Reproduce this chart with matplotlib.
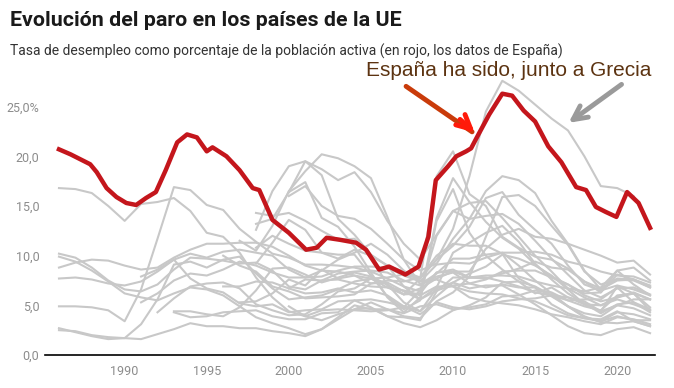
#Evolucion del paro en los paises de la UE - recreacion del grafico

#Imports
import numpy as np
import matplotlib
matplotlib.use('Agg')
import matplotlib.pyplot as plt

plt.rcParams['font.family'] = ['Roboto', 'DejaVu Sans']

#Datos de Espana (lectura del grafico, tasa de paro en %)
spain_years = [1986.0, 1986.7, 1987.3, 1987.9, 1988.3, 1988.9, 1989.5, 1990.1, 1990.7, 1991.3,
               1991.9, 1992.5, 1993.2, 1993.8, 1994.4, 1995.0, 1995.35, 1996.2, 1997.0, 1997.8,
               1998.2, 1999.0, 2000.0, 2001.05, 2001.7, 2002.3, 2003.1, 2004.1, 2004.7, 2005.5,
               2006.1, 2007.1, 2007.9, 2008.5, 2008.95, 2009.7, 2010.2, 2010.8, 2011.1, 2011.45,
               2012.2, 2013.0, 2013.6, 2014.3, 2015.0, 2015.8, 2016.6, 2017.5, 2018.1, 2018.7,
               2019.3, 2019.95, 2020.6, 2021.3, 2022.0]
spain_vals = [20.7, 20.2, 19.7, 19.2, 18.4, 16.8, 15.9, 15.3, 15.1, 15.8,
              16.4, 18.6, 21.4, 22.2, 21.9, 20.5, 20.9, 20.0, 18.6, 16.8,
              16.6, 13.6, 12.3, 10.6, 10.8, 11.8, 11.6, 11.3, 10.6, 8.6,
              8.9, 8.1, 8.9, 11.9, 17.6, 19.0, 20.0, 20.5, 20.8, 21.9,
              24.2, 26.3, 26.1, 24.6, 23.5, 21.0, 19.4, 16.9, 16.6, 14.9,
              14.4, 13.9, 16.4, 15.3, 12.8]

#Resto de paises (primer anio, valores anuales)
ireland_start = 1986
ireland = [16.8, 16.7, 16.3, 15.0, 13.5, 15.2, 15.4, 15.8, 14.5, 12.3, 11.9, 10.3, 7.8, 5.8, 4.4,
           3.9, 4.5, 4.6, 4.5, 4.4, 4.5, 4.8, 6.5, 12.0, 14.5, 15.3, 15.5, 13.8, 11.9, 10.0,
           8.4, 6.7, 5.8, 5.0, 5.8, 6.2, 4.5]
finland_start = 1986
finland = [4.9, 4.9, 4.8, 4.5, 3.4, 6.6, 11.7, 16.9, 16.6, 15.1, 14.6, 12.7, 11.4, 10.2, 9.8,
           9.1, 9.1, 9.0, 8.8, 8.4, 7.7, 6.9, 6.4, 8.3, 8.4, 7.8, 7.7, 8.2, 8.7, 9.4,
           8.8, 8.6, 7.4, 6.7, 7.7, 7.6, 6.8]
sweden_start = 1986
sweden = [2.7, 2.3, 1.9, 1.6, 1.7, 3.1, 5.6, 9.1, 9.4, 8.8, 9.6, 9.9, 8.2, 6.7, 5.6,
          5.8, 6.0, 6.6, 7.4, 7.7, 7.1, 6.1, 6.2, 8.3, 8.6, 7.8, 8.0, 8.0, 7.9, 7.4,
          7.0, 6.7, 6.4, 6.8, 8.5, 8.8, 7.5]
luxembourg_start = 1986
luxembourg = [2.5, 2.4, 2.0, 1.8, 1.7, 1.6, 2.1, 2.6, 3.2, 2.9, 2.9, 2.7, 2.7, 2.4, 2.2,
              1.9, 2.6, 3.8, 5.0, 4.6, 4.6, 4.2, 4.9, 5.1, 4.6, 4.8, 5.1, 5.9, 6.0, 6.5,
              6.3, 5.5, 5.6, 5.6, 6.8, 5.3, 4.6]
netherlands_start = 1986
netherlands = [9.9, 9.4, 8.5, 7.4, 6.2, 5.8, 5.5, 6.2, 6.8, 6.6, 6.0, 4.9, 3.8, 3.2, 2.7,
               2.1, 2.6, 3.6, 4.6, 4.7, 3.9, 3.2, 2.8, 3.5, 4.5, 5.0, 5.8, 7.3, 7.4, 6.9,
               6.0, 4.9, 3.8, 3.4, 3.9, 3.5, 3.5]
belgium_start = 1986
belgium = [10.2, 9.8, 8.8, 7.5, 6.6, 6.4, 7.1, 8.6, 9.8, 9.7, 9.5, 9.2, 9.3, 8.5, 6.9,
           6.6, 7.5, 8.2, 8.4, 8.5, 8.3, 7.5, 7.0, 7.9, 8.3, 7.2, 7.6, 8.4, 8.5, 8.5,
           7.8, 7.1, 6.0, 5.4, 5.8, 6.3, 5.6]
italy_start = 1986
italy = [8.8, 9.3, 9.6, 9.5, 9.0, 8.6, 8.8, 9.8, 10.6, 11.2, 11.2, 11.3, 11.3, 10.9, 10.0,
         9.0, 8.5, 8.4, 8.0, 7.7, 6.8, 6.1, 6.7, 7.7, 8.4, 8.4, 10.7, 12.1, 12.7, 11.9,
         11.7, 11.2, 10.6, 10.0, 9.3, 9.5, 8.1]
france_start = 1986
france = [7.7, 7.8, 7.6, 7.2, 7.0, 7.4, 8.4, 9.6, 10.2, 9.8, 10.4, 10.6, 10.3, 10.0, 8.6,
          7.8, 7.9, 8.5, 8.9, 8.9, 8.8, 8.0, 7.4, 9.1, 9.3, 9.2, 9.8, 10.3, 10.3, 10.4,
          10.1, 9.4, 9.0, 8.4, 8.0, 7.9, 7.3]
portugal_start = 1992
portugal = [4.3, 5.7, 6.9, 7.2, 7.3, 6.7, 5.1, 4.5, 4.0, 4.1, 5.1, 6.4, 6.7, 7.7, 7.8,
            8.1, 7.7, 9.6, 11.0, 12.9, 15.8, 16.4, 14.1, 12.6, 11.2, 9.0, 7.1, 6.5, 7.0, 6.6, 6.0]
denmark_start = 1991
denmark = [7.9, 8.6, 9.6, 7.7, 6.7, 6.3, 5.2, 4.9, 5.1, 4.3, 4.5, 4.6, 5.4, 5.5, 4.8,
           3.9, 3.8, 3.5, 6.4, 7.8, 7.8, 7.8, 7.4, 6.9, 6.3, 6.0, 5.8, 5.1, 5.0, 5.6, 5.1, 4.5]
germany_start = 1991
germany = [5.3, 6.2, 7.5, 8.2, 8.0, 8.6, 9.4, 9.0, 8.3, 7.8, 7.8, 8.5, 9.6, 10.3, 11.2,
           10.1, 8.5, 7.4, 7.6, 6.9, 5.8, 5.4, 5.2, 5.0, 4.6, 4.1, 3.8, 3.4, 3.1, 3.8, 3.6, 3.1]
austria_start = 1993
austria = [4.3, 3.8, 3.9, 4.3, 4.4, 4.5, 3.9, 3.6, 3.6, 4.2, 4.3, 5.5, 5.6, 5.3, 4.9,
           4.1, 5.3, 4.8, 4.6, 4.9, 5.4, 5.6, 5.7, 6.0, 5.5, 4.9, 4.5, 6.0, 6.2, 4.8]
greece_start = 1998
greece = [10.8, 12.0, 11.2, 10.5, 10.3, 9.7, 10.6, 10.0, 9.0, 8.4, 7.8, 9.6, 12.7, 18.0, 24.5,
          27.6, 26.6, 25.2, 23.8, 22.6, 20.0, 17.0, 16.8, 16.0, 12.8]
poland_start = 1997
poland = [11.5, 10.5, 13.0, 16.5, 18.5, 20.2, 19.8, 19.0, 17.8, 13.9, 9.6, 7.1, 8.2, 9.7, 9.7,
          10.1, 10.3, 9.0, 7.5, 6.2, 4.9, 3.9, 3.3, 3.2, 3.4, 2.9]
slovakia_start = 1998
slovakia = [12.6, 16.5, 19.0, 19.5, 18.7, 17.6, 18.4, 16.4, 13.5, 11.2, 9.6, 12.1, 14.5, 13.7, 14.0,
            14.2, 13.2, 11.5, 9.7, 8.1, 6.5, 5.8, 6.7, 6.8, 6.1]
bulgaria_start = 2000
bulgaria = [16.4, 19.5, 18.1, 13.7, 12.1, 10.1, 9.0, 6.9, 5.6, 6.8, 10.3, 11.3, 12.3, 13.0, 11.4,
            9.2, 7.6, 6.2, 5.2, 4.2, 5.1, 5.3, 4.3]
lithuania_start = 1998
lithuania = [13.2, 13.7, 16.4, 17.4, 13.8, 12.9, 10.9, 8.3, 5.8, 4.3, 5.8, 13.8, 17.8, 15.4, 13.4,
             11.8, 10.7, 9.1, 7.9, 7.1, 6.2, 6.3, 8.5, 7.1, 6.0]
latvia_start = 1998
latvia = [14.3, 14.0, 14.3, 13.5, 12.5, 11.6, 11.7, 10.0, 7.0, 6.1, 7.7, 18.0, 20.5, 16.2, 15.0,
          11.9, 10.8, 9.9, 9.6, 8.7, 7.4, 6.3, 8.1, 7.6, 6.9]
estonia_start = 1998
estonia = [9.2, 11.3, 13.6, 12.6, 10.3, 10.1, 10.1, 8.0, 5.9, 4.6, 5.5, 13.5, 16.7, 12.3, 10.0,
           8.6, 7.4, 6.2, 6.8, 5.8, 5.4, 4.4, 6.9, 6.2, 5.6]
croatia_start = 2000
croatia = [16.0, 17.0, 15.0, 14.0, 13.7, 12.7, 11.2, 9.6, 8.5, 9.2, 11.7, 13.7, 16.5, 18.0, 17.6,
           16.3, 13.5, 11.2, 8.5, 6.6, 7.5, 7.6, 7.0]
cyprus_start = 2000
cyprus = [4.9, 3.9, 3.5, 4.1, 4.6, 5.3, 4.6, 3.9, 3.7, 5.4, 6.3, 7.9, 11.9, 15.9, 16.1,
          15.0, 13.0, 11.1, 8.4, 7.1, 7.6, 7.5, 6.8]
slovenia_start = 1996
slovenia = [6.9, 6.9, 7.4, 7.3, 6.7, 6.2, 6.3, 6.7, 6.3, 6.5, 6.0, 4.9, 4.4, 5.9, 7.3,
            8.2, 8.9, 10.1, 9.7, 9.0, 8.0, 6.6, 5.1, 4.4, 5.0, 4.7, 4.0]
czechia_start = 1993
czechia = [4.4, 4.4, 4.1, 3.9, 4.8, 6.5, 8.7, 8.8, 8.1, 7.3, 7.8, 8.3, 7.9, 7.1, 5.3,
           4.4, 6.7, 7.3, 6.7, 7.0, 7.0, 6.1, 5.1, 4.0, 2.9, 2.2, 2.0, 2.6, 2.8, 2.2]
hungary_start = 1996
hungary = [10.0, 9.0, 8.4, 6.9, 6.4, 5.7, 5.8, 5.9, 6.1, 7.2, 7.5, 7.4, 7.8, 10.0, 11.2,
           11.0, 11.0, 10.2, 7.7, 6.8, 5.1, 4.2, 3.7, 3.4, 4.3, 4.1, 3.6]
malta_start = 2000
malta = [6.7, 7.6, 7.5, 7.6, 7.2, 6.9, 6.8, 6.5, 6.0, 6.9, 6.9, 6.4, 6.2, 6.1, 5.7,
         5.4, 4.7, 4.0, 3.7, 3.6, 4.4, 3.4, 2.9]
romania_start = 1997
romania = [5.3, 5.4, 6.2, 7.6, 7.0, 8.6, 7.7, 8.0, 7.2, 7.3, 6.4, 5.6, 6.5, 7.0, 7.2,
           6.8, 7.1, 6.8, 6.8, 5.9, 4.9, 4.2, 3.9, 5.0, 5.6, 5.6]

others = [(ireland_start, ireland), (finland_start, finland), (sweden_start, sweden),
          (luxembourg_start, luxembourg), (netherlands_start, netherlands), (belgium_start, belgium),
          (italy_start, italy), (france_start, france), (portugal_start, portugal),
          (denmark_start, denmark), (germany_start, germany), (austria_start, austria),
          (greece_start, greece), (poland_start, poland), (slovakia_start, slovakia),
          (bulgaria_start, bulgaria), (lithuania_start, lithuania), (latvia_start, latvia),
          (estonia_start, estonia), (croatia_start, croatia), (cyprus_start, cyprus),
          (slovenia_start, slovenia), (czechia_start, czechia), (hungary_start, hungary),
          (malta_start, malta), (romania_start, romania)]

y_ticks = [0, 5, 10, 15, 20, 25]
y_labels = ['0,0', '5,0', '10,0', '15,0', '20,0', '25,0%']
x_ticks = [1990, 1995, 2000, 2005, 2010, 2015, 2020]

#Figura
fig = plt.figure(figsize=(6.74, 3.88), dpi=100)
ax = fig.add_axes([0.0668, 0.085, 0.905, 0.735])

for start, vals in others:
    yrs = np.arange(start, start + len(vals))
    ax.plot(yrs, vals, color='#c8c8c8', lw=1.5, zorder=2)

ax.plot(spain_years, spain_vals, color='#c4161c', lw=3.2, zorder=4, solid_joinstyle='round')

ax.set_xlim(1985.15, 2022.3)
ax.set_ylim(0, 28.7)
ax.set_yticks(y_ticks)
ax.set_yticklabels(y_labels)
ax.set_xticks(x_ticks)
ax.tick_params(length=0, labelsize=9, colors='#8c8c8c')
ax.tick_params(axis='y', pad=4)
ax.tick_params(axis='x', pad=7)
for s in ['top', 'right', 'left']:
    ax.spines[s].set_visible(False)
ax.spines['bottom'].set_color('black')
ax.spines['bottom'].set_linewidth(1.2)

#Anotaciones
ax.text(2004.7, 28.6, 'España ha sido, junto a Grecia', color='#5c3311', fontsize=15,
        family=['Liberation Sans', 'DejaVu Sans'], va='center', ha='left', clip_on=False, zorder=6)
ax.annotate('', xy=(2011.3, 22.3), xytext=(2007.0, 27.2),
            arrowprops=dict(arrowstyle='-', color='#c93b0a', lw=3.5), annotation_clip=False, zorder=5)
ax.annotate('', xy=(2011.45, 22.2), xytext=(2010.3, 23.9),
            arrowprops=dict(arrowstyle='->', color='#ff1a0a', lw=3.5, mutation_scale=25),
            annotation_clip=False, zorder=5)
ax.annotate('', xy=(2016.9, 23.2), xytext=(2020.4, 27.4),
            arrowprops=dict(arrowstyle='->', color='#9a9a9a', lw=3.5, mutation_scale=25),
            annotation_clip=False, zorder=5)

#Titulos
fig.text(10 / 674, 1 - 20 / 388, 'Evolución del paro en los países de la UE', fontsize=15.4,
         fontweight='bold', color='#1a1a1a', va='center', ha='left')
fig.text(10 / 674, 1 - 51 / 388,
         'Tasa de desempleo como porcentaje de la población activa (en rojo, los datos de España)',
         fontsize=10, color='#333333', va='center', ha='left')

fig.savefig('out.png', dpi=100)
